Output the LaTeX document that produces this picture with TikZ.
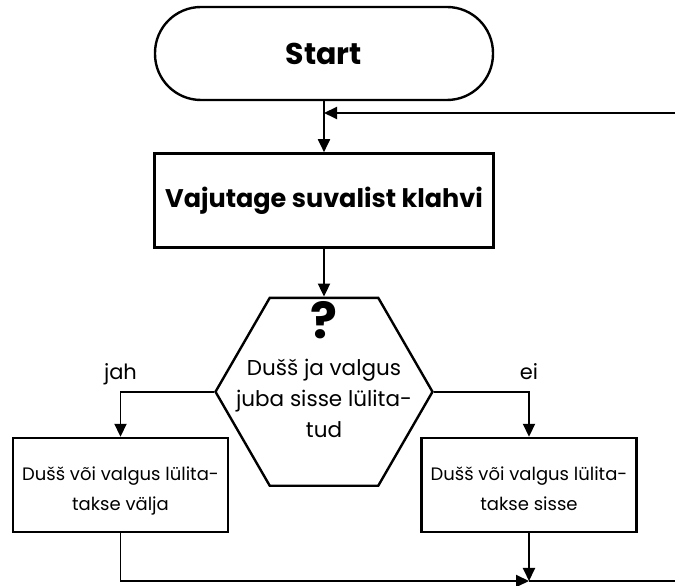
\documentclass[tikz,border=0pt]{standalone}
\usepackage{fontspec}
\setmainfont{Poppins}
\usetikzlibrary{positioning,shapes.geometric,arrows.meta}

\begin{document}
\begin{tikzpicture}[x=1pt, y=1pt,
        flow/.style ={draw, line width=1.9pt, -{Triangle[length=13pt, width=12pt]}},
        every node/.style ={align=center, inner sep=0pt},
        terminal/.style ={draw, line width=2.4pt, rounded corners=46pt, minimum width=338pt, minimum height=93pt,
                          font=\fontsize{30}{36}\selectfont\bfseries},
        process/.style ={draw, line width=2.4pt, minimum width=339pt, minimum height=94pt,
                          font=\fontsize{25.5}{30}\selectfont\bfseries},
        decision/.style ={draw, line width=2.4pt, regular polygon, regular polygon sides=6, minimum size=217pt},
        decisiontext/.style ={font=\fontsize{21.5}{31}\selectfont},
        action/.style ={draw, line width=2.4pt, minimum width=215pt, minimum height=94pt,
                          text height=53pt, text depth=2pt, font=\fontsize{18}{30}\selectfont},
        answer/.style ={font=\fontsize{21}{25}\selectfont},
    ]
\useasboundingbox (0,0) rectangle (675,586);

% Nodes

\node (start) [terminal] at (324,532.5) {Start};
\node (press) [process, below=51pt of start] {Vajutage suvalist klahvi};
\node (check) [decision, below=48pt of press] {};
\node (checktext) [decisiontext, below=5pt of check.north]
    {{\fontsize{50}{50}\selectfont\bfseries ?}\\[6pt]
     Dušš ja valgus\\ juba sisse lülita-\\ tud};
\node (off) [action] at (120.5,101) {Dušš või valgus lülita-\\ takse välja};
\node (on) [action] at (529,101) {Dušš või valgus lülita-\\ takse sisse};

\coordinate (loopin) at (675,473);
\coordinate (loopjoin) at (start.south |- loopin);
\coordinate (merge) at (on.south |- 0,5);
\coordinate (loopout) at (675,5);

% Arrows

\draw[flow] (start) -- (press);
\draw[flow] (loopin) -- (loopjoin);
\draw[flow] (press) -- (check);
\draw[flow] (check.west) -| node[answer, pos=0.5, above=12pt, anchor=base] {jah} (off.north);
\draw[flow] (check.east) -| node[answer, pos=0.5, above=12pt, anchor=base] {ei} (on.north);
\draw[flow] (off.south) |- (merge);
\draw[flow] (on.south) -- (merge);
\draw[line width=1.9pt] (merge) -- (loopout);

\end{tikzpicture}
\end{document}
